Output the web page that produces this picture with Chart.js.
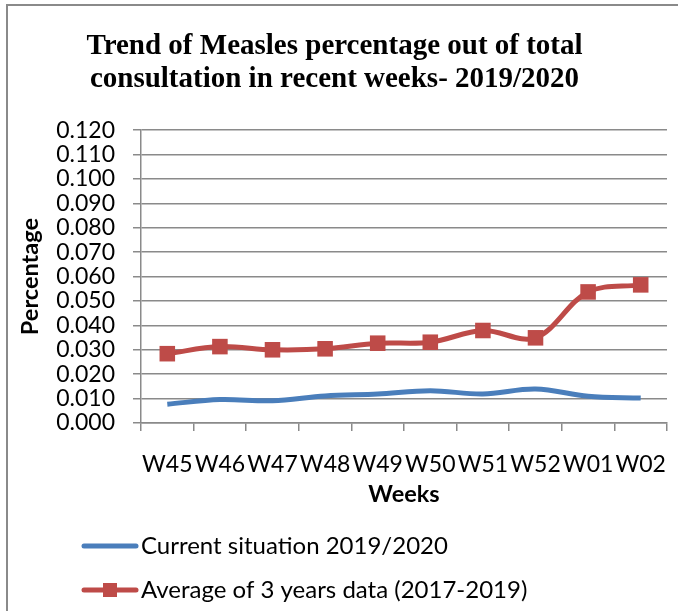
<!DOCTYPE html>
<html>
<head>
<meta charset="utf-8">
<script src="https://cdn.jsdelivr.net/npm/chart.js@4.4.1/dist/chart.umd.min.js"></script>
<style>
  html, body { margin: 0; padding: 0; background: #fff; overflow: hidden; }
  #frame { position: absolute; left: 6px; top: 4px; width: 800px; height: 800px; border: 2px solid #8a8a8a; }
  #wrap { position: absolute; left: 0; top: 0; width: 678px; height: 611px; }
</style>
</head>
<body>
<div id="frame"></div>
<div id="wrap"><canvas id="measlesChart" width="678" height="611"></canvas></div>
<script>
// data
const weeks = ["W45", "W46", "W47", "W48", "W49", "W50", "W51", "W52", "W01", "W02"];
const currentSituation = [0.0077, 0.0096, 0.0091, 0.0111, 0.0119, 0.0132, 0.0119, 0.0139, 0.0110, 0.0102];
const threeYearAverage = [0.0284, 0.0313, 0.0300, 0.0304, 0.0327, 0.0331, 0.0379, 0.0349, 0.0537, 0.0566];
const seriesNames = ["Current situation 2019/2020", "Average of 3 years data (2017-2019)"];
const titleLines = ["Trend of Measles percentage out of total", "consultation in recent weeks- 2019/2020"];

const BLUE = "#4a7ebb";
const RED = "#be4b48";
const GRID = "#8a8a8a";
const LABEL_FONT = "Lato";

// Legend drawn by hand: one item per row, line sample (plus marker for red)
const stackedLegend = {
  id: "stackedLegend",
  afterDraw(chart) {
    const ctx = chart.ctx;
    const base = chart.scales.x.bottom;
    const rows = [base + 37, base + 81];
    ctx.save();
    chart.data.datasets.forEach((ds, i) => {
      const y = rows[i];
      ctx.strokeStyle = ds.borderColor;
      ctx.lineWidth = ds.borderWidth;
      ctx.lineCap = "round";
      ctx.beginPath();
      ctx.moveTo(84, y);
      ctx.lineTo(136, y);
      ctx.stroke();
      if (ds.pointRadius > 0) {
        ctx.fillStyle = ds.pointBackgroundColor;
        ctx.fillRect(103, y - 7, 14, 14);
      }
      ctx.fillStyle = "#000";
      ctx.font = "24px " + LABEL_FONT;
      ctx.textBaseline = "middle";
      ctx.textAlign = "left";
      ctx.fillText(seriesNames[i], 141, y);
    });
    ctx.restore();
  }
};

const ctx = document.getElementById("measlesChart").getContext("2d");
new Chart(ctx, {
  type: "line",
  data: {
    labels: weeks,
    datasets: [
      {
        label: seriesNames[0],
        data: currentSituation,
        borderColor: BLUE,
        backgroundColor: BLUE,
        borderWidth: 5,
        pointRadius: 0,
        pointHoverRadius: 0,
        tension: 0.35,
      },
      {
        label: seriesNames[1],
        data: threeYearAverage,
        borderColor: RED,
        backgroundColor: RED,
        borderWidth: 5,
        pointStyle: "rect",
        pointRadius: 11,
        pointBackgroundColor: RED,
        pointBorderColor: RED,
        pointBorderWidth: 0,
        tension: 0.35,
      },
    ],
  },
  options: {
    responsive: false,
    animation: false,
    layout: { padding: { left: 0, top: 0, right: 9, bottom: 102 } },
    plugins: {
      legend: { display: false },
      tooltip: { enabled: false },
      title: {
        display: true,
        text: titleLines,
        color: "#000",
        font: { family: "Liberation Serif", size: 29, weight: "bold", lineHeight: 1.14 },
        padding: { top: 30, bottom: 34 },
      },
    },
    scales: {
      x: {
        offset: true,
        grid: { display: true, drawOnChartArea: false, drawTicks: true, tickLength: 8, offset: true, color: GRID, lineWidth: 1.5 },
        border: { display: true, color: GRID, width: 1.5 },
        ticks: { color: "#000", font: { family: LABEL_FONT, size: 23 }, padding: 20, maxRotation: 0, autoSkip: false },
        title: { display: true, text: "Weeks", color: "#000", font: { family: LABEL_FONT, size: 23.5, weight: "bold" }, padding: { top: 0, bottom: 0 } },
        afterFit(scale) {
          scale.height = 86;
          scale.paddingLeft = 0;
          scale.paddingRight = 0;
        },
      },
      y: {
        min: 0,
        max: 0.12,
        grid: { color: GRID, lineWidth: 1.5, tickLength: 8 },
        border: { display: true, color: GRID, width: 1.5 },
        ticks: {
          stepSize: 0.01,
          autoSkip: false,
          color: "#000",
          font: { family: LABEL_FONT, size: 23 },
          padding: 18,
          callback: (v) => v.toFixed(3),
        },
        title: { display: true, text: "Percentage", color: "#000", font: { family: LABEL_FONT, size: 23.5, weight: "bold" }, padding: { top: 16, bottom: 0 } },
        afterFit(scale) { scale.width = 141; },
      },
    },
  },
  plugins: [stackedLegend],
});
</script>
</body>
</html>
